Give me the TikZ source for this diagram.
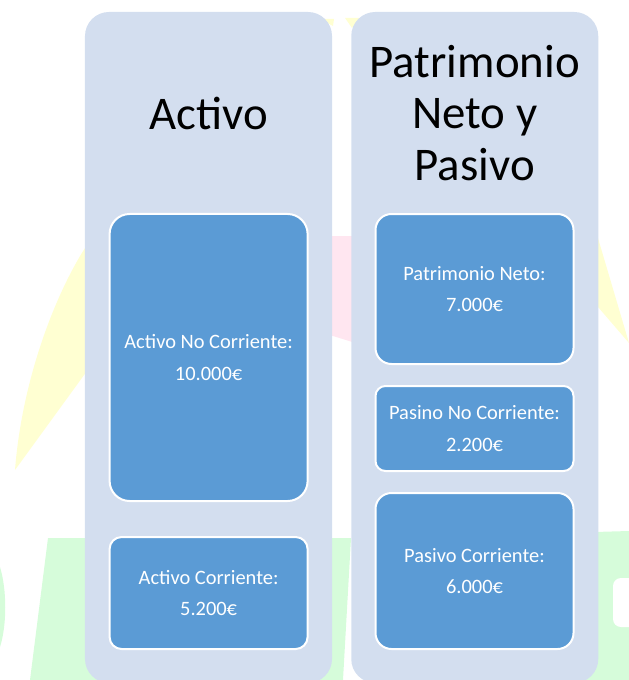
\documentclass[tikz,border=0pt]{standalone}
\usepackage{fontspec}
\setmainfont{Carlito}
\usepackage{tikz}
\usetikzlibrary{positioning}
\definecolor{colfill}{RGB}{211,222,239}
\definecolor{itemfill}{RGB}{91,155,213}
\definecolor{wmyellow}{RGB}{255,255,210}
\definecolor{wmpink}{RGB}{255,230,240}
\definecolor{wmgreen}{RGB}{214,252,218}

\begin{document}
\begin{tikzpicture}[x=1bp, y=-1bp, node distance=22bp]
\tikzstyle{colbox}=[fill=colfill, rounded corners=24bp, minimum width=247bp, minimum height=671bp, inner sep=0pt, outer sep=0pt]
\tikzstyle{itembox}=[draw=white, line width=2bp, fill=itemfill, text=white, align=center, minimum width=198bp, inner sep=0pt, outer sep=0pt, font=\fontsize{20.5}{32}\selectfont]
\tikzstyle{title}=[align=center, inner sep=0pt, font=\fontsize{47}{52}\selectfont]
\useasboundingbox (0,0) rectangle (629,680);
% faint logo behind the columns
\fill[wmyellow] (85,248) .. controls (55,295) and (22,380) .. (15,470) -- (95,360) -- (95,235) -- cycle;
\fill[wmyellow] (595,228) -- (629,343) -- (598,307) -- cycle;
\fill[wmyellow] (320,19) -- (334,19) -- (333,26) -- cycle;
\fill[wmyellow] (345,18) -- (360,18) -- (352,28) -- cycle;
\fill[wmpink] (320,236) -- (362,236) -- (362,345) -- (320,332) -- cycle;
\fill[wmgreen] (48,538) -- (351,538) -- (343,680) -- (30,680) -- cycle;
\fill[wmgreen] (560,533) -- (629,531) -- (629,680) -- (560,680) -- cycle;
\fill[white, rounded corners=8bp] (613,578) rectangle (640,627);
\fill[wmgreen] (0,567) .. controls (7,590) and (7,625) .. (0,647) -- cycle;

% columns
\node[colbox] (activoCol) at (208.5,347.5) {};
\node[colbox] (pasivoCol) at (474.75,347.5) {};
\node[title] (activoTitle) at (208.5,113) {Activo};
\node[title] (pasivoTitle) at (474.75,113) {Patrimonio\\Neto y\\Pasivo};

% left column items
\node[itembox, minimum height=287bp, rounded corners=20bp] (ancBox) at (208.6,357.5) {Activo No Corriente:\\10.000€};
\node[itembox, minimum height=112bp, rounded corners=12bp, below=36bp of ancBox] (acBox) {Activo Corriente:\\5.200€};

% right column items
\node[itembox, minimum height=150bp, rounded corners=16bp] (pnBox) at (474.5,289) {Patrimonio Neto:\\7.000€};
\node[itembox, minimum height=85bp, rounded corners=10bp, below=of pnBox] (pncBox) {Pasino No Corriente:\\2.200€};
\node[itembox, minimum height=156bp, rounded corners=16bp, below=of pncBox] (pcBox) {Pasivo Corriente:\\6.000€};
\end{tikzpicture}
\end{document}
